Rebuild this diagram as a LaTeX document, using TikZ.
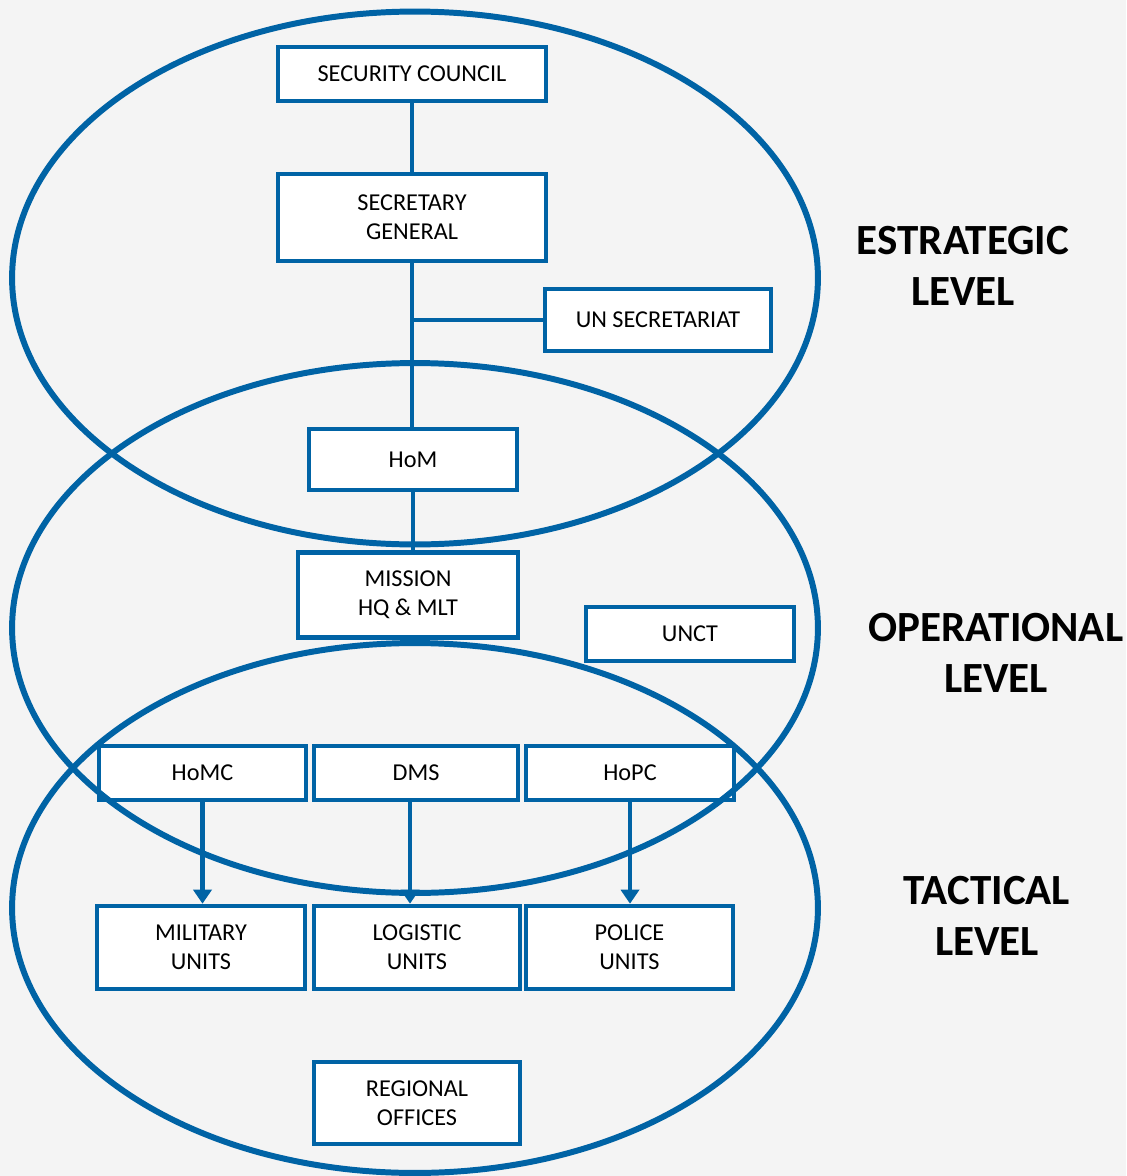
\documentclass[tikz,border=0pt]{standalone}
\usepackage{fontspec}
\setmainfont{Carlito}
\usetikzlibrary{arrows.meta}
\definecolor{unblue}{HTML}{0063A5}
\definecolor{bgray}{HTML}{F4F4F4}
\tikzset{
  unbox/.style={draw=unblue, line width=2.6pt, fill=white, align=center, inner sep=0pt,
    font=\fontsize{13.8}{16.5}\selectfont},
  link/.style={draw=unblue, line width=2.5pt},
  arrowlink/.style={link, -{Triangle[width=0.36cm,length=0.28cm]}},
  ring/.style={draw=unblue, line width=3.4pt},
  levellabel/.style={align=center, font=\fontsize{24.5}{29}\selectfont\bfseries}
}
\begin{document}
\begin{tikzpicture}[x=0.02cm, y=-0.02cm]
\fill[bgray] (0,0) rectangle (1126,1176);
\useasboundingbox (0,0) rectangle (1126,1176);

\node[unbox, minimum width=5.36cm, minimum height=1.08cm] (sc) at (412,74) {SECURITY COUNCIL};
\node[unbox, minimum width=5.36cm, minimum height=1.74cm] (sg) at (412,217.5) {SECRETARY\\GENERAL};
\node[unbox, minimum width=4.52cm, minimum height=1.24cm] (uns) at (658,320) {UN SECRETARIAT};
\node[unbox, minimum width=4.16cm, minimum height=1.22cm] (hom) at (413,459.5) {HoM};
\node[unbox, minimum width=4.40cm, minimum height=1.70cm] (mhq) at (408,595) {MISSION\\HQ \& MLT};
\node[unbox, minimum width=4.16cm, minimum height=1.08cm] (unct) at (690,634) {UNCT};

\node[unbox, minimum width=4.14cm, minimum height=1.08cm] (homc) at (202.5,773) {HoMC};
\node[unbox, minimum width=4.08cm, minimum height=1.08cm] (dms) at (416,773) {DMS};
\node[unbox, minimum width=4.16cm, minimum height=1.08cm] (hopc) at (630,773) {HoPC};

\node[unbox, minimum width=4.16cm, minimum height=1.66cm] (mil) at (201,947.5) {MILITARY\\UNITS};
\node[unbox, minimum width=4.12cm, minimum height=1.66cm] (log) at (417,947.5) {LOGISTIC\\UNITS};
\node[unbox, minimum width=4.14cm, minimum height=1.66cm] (pol) at (629.5,947.5) {POLICE\\UNITS};
\node[unbox, minimum width=4.12cm, minimum height=1.64cm] (reg) at (417,1103) {REGIONAL\\OFFICES};

\coordinate (branch) at (sg.south |- uns.west);

\draw[link] (sc.south) -- (sg.north);
\draw[link] (sg.south) -- (sg.south |- hom.north);
\draw[link] (branch) -- (uns.west);
\draw[link] (hom.south) -- (hom.south |- mhq.north);

\draw[arrowlink] (homc.south) -- (homc.south |- mil.north);
\draw[arrowlink] ([xshift=-0.12cm]dms.south) -- ([xshift=-0.12cm]dms.south |- log.north);
\draw[arrowlink] (hopc.south) -- (hopc.south |- pol.north);

% levels
\draw[ring] (415,278) ellipse [x radius=8.06cm, y radius=5.33cm];
\draw[ring] (415,628) ellipse [x radius=8.06cm, y radius=5.30cm];
\draw[ring] (415,908) ellipse [x radius=8.06cm, y radius=5.30cm];

\node[levellabel] (strat) at (963,266) {ESTRATEGIC\\LEVEL};
\node[levellabel] (oper) at (996,653) {OPERATIONAL\\LEVEL};
\node[levellabel] (tact) at (987,916) {TACTICAL\\LEVEL};
\end{tikzpicture}
\end{document}
